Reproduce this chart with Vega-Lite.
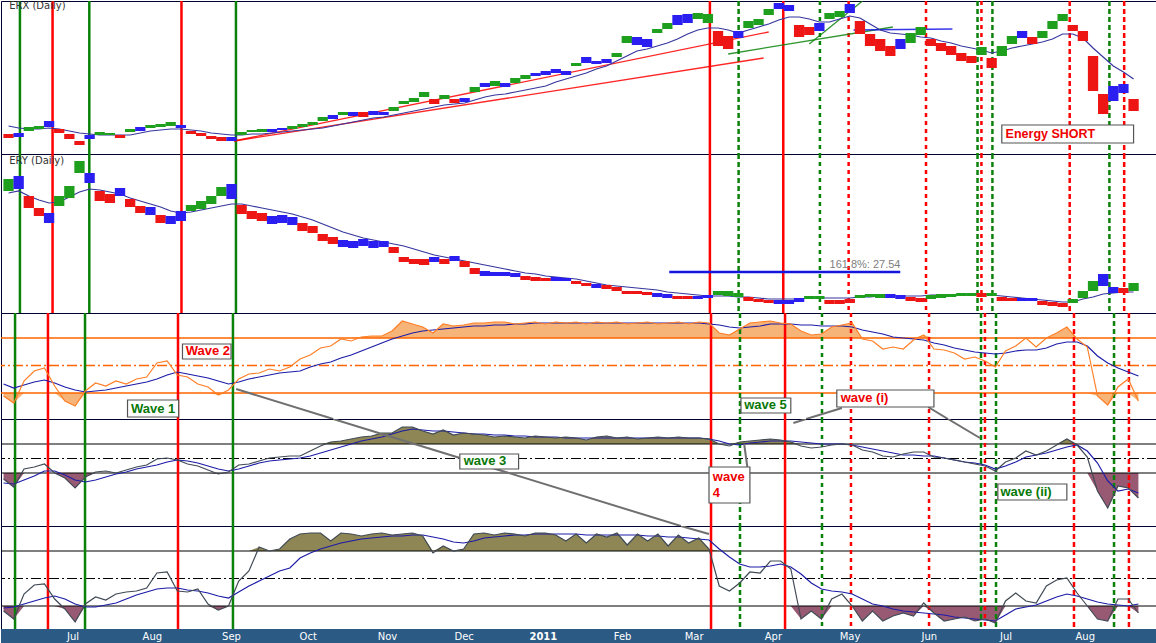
{
  "$schema": "https://vega.github.io/schema/vega-lite/v6.json",
  "padding": 0,
  "spacing": 0,
  "bounds": "flush",
  "background": "white",
  "config": {"view": {"stroke": "#00002E", "strokeWidth": 1}, "font": "DejaVu Sans"},
  "datasets": {
    "px": [
      {"d":"2010-06-04","h":30,"l":28,"c":"r","m":34,"eh":38.5,"el":35.5,"ec":"g","em":35,"o":17,"om":29,"p":8,"pm":0,"q":15,"qm":18},
      {"d":"2010-06-08","h":30.5,"l":28.5,"c":"b","m":33,"eh":39.25,"el":36,"ec":"b","em":35.5,"o":10,"om":25,"p":-8,"pm":-2,"q":7,"qm":19},
      {"d":"2010-06-12","h":33.5,"l":31.5,"c":"g","m":32.5,"eh":34.25,"el":31.25,"ec":"r","em":34.25,"o":32,"om":28,"p":28,"pm":6,"q":32,"qm":22},
      {"d":"2010-06-16","h":34,"l":32.5,"c":"g","m":32.5,"eh":31.25,"el":29.25,"ec":"r","em":33.25,"o":42,"om":31,"p":32,"pm":14,"q":41,"qm":25},
      {"d":"2010-06-20","h":36.5,"l":33.5,"c":"b","m":33,"eh":30,"el":27.5,"ec":"b","em":32.5,"o":45,"om":33,"p":38,"pm":24,"q":42,"qm":28},
      {"d":"2010-06-24","h":32.5,"l":30.5,"c":"r","m":32.5,"eh":34.25,"el":31.75,"ec":"g","em":32.75,"o":27,"om":30,"p":20,"pm":24,"q":27,"qm":30},
      {"d":"2010-06-28","h":30,"l":27.5,"c":"r","m":31.5,"eh":36.75,"el":33.75,"ec":"g","em":34,"o":12,"om":26,"p":10,"pm":16,"q":17,"qm":27},
      {"d":"2010-07-02","h":26.5,"l":24.5,"c":"r","m":30.5,"eh":43,"el":40,"ec":"g","em":35.25,"o":7,"om":23,"p":-10,"pm":6,"q":4,"qm":22},
      {"d":"2010-07-06","h":29.5,"l":27.5,"c":"b","m":30,"eh":40,"el":37.5,"ec":"b","em":36,"o":22,"om":21,"p":12,"pm":2,"q":22,"qm":19},
      {"d":"2010-07-10","h":31,"l":29.5,"c":"g","m":29.5,"eh":35.5,"el":33,"ec":"r","em":35.75,"o":30,"om":22,"p":22,"pm":6,"q":29,"qm":19},
      {"d":"2010-07-14","h":30.5,"l":29.5,"c":"g","m":29.5,"eh":34.75,"el":32.5,"ec":"r","em":35.25,"o":27,"om":23,"p":24,"pm":12,"q":26,"qm":21},
      {"d":"2010-07-18","h":29.5,"l":28,"c":"r","m":29.5,"eh":36.25,"el":34.25,"ec":"b","em":34.75,"o":32,"om":25,"p":20,"pm":18,"q":32,"qm":23},
      {"d":"2010-07-22","h":32.5,"l":31,"c":"g","m":29.5,"eh":33.5,"el":31.5,"ec":"r","em":33.75,"o":29,"om":27,"p":26,"pm":22,"q":34,"qm":27},
      {"d":"2010-07-26","h":33.5,"l":31.5,"c":"b","m":30.5,"eh":31.75,"el":30,"ec":"r","em":33,"o":34,"om":29,"p":32,"pm":28,"q":35,"qm":31},
      {"d":"2010-07-30","h":34.5,"l":33,"c":"g","m":31.5,"eh":31.5,"el":29.5,"ec":"b","em":32.25,"o":36,"om":31,"p":36,"pm":32,"q":38,"qm":34},
      {"d":"2010-08-03","h":35,"l":33.5,"c":"g","m":32,"eh":29.5,"el":27.5,"ec":"r","em":31.5,"o":50,"om":34,"p":48,"pm":36,"q":53,"qm":37},
      {"d":"2010-08-07","h":36,"l":34,"c":"g","m":32.5,"eh":29.25,"el":27.25,"ec":"b","em":30.5,"o":52,"om":38,"p":50,"pm":42,"q":54,"qm":38},
      {"d":"2010-08-11","h":34.5,"l":33,"c":"b","m":32.5,"eh":30.5,"el":28,"ec":"b","em":30,"o":38,"om":41,"p":46,"pm":46,"q":35,"qm":38},
      {"d":"2010-08-15","h":31.5,"l":30,"c":"r","m":32,"eh":32,"el":30.5,"ec":"g","em":30.25,"o":36,"om":39,"p":38,"pm":44,"q":34,"qm":36},
      {"d":"2010-08-19","h":30.5,"l":29,"c":"r","m":31.5,"eh":33,"el":31,"ec":"g","em":30.75,"o":29,"om":37,"p":34,"pm":40,"q":37,"qm":35},
      {"d":"2010-08-23","h":29,"l":27.5,"c":"r","m":30.5,"eh":34.25,"el":32.25,"ec":"g","em":31.25,"o":26,"om":35,"p":26,"pm":34,"q":22,"qm":33},
      {"d":"2010-08-27","h":28.5,"l":26.5,"c":"r","m":30,"eh":36.5,"el":34.25,"ec":"g","em":31.75,"o":18,"om":32,"p":18,"pm":28,"q":16,"qm":30},
      {"d":"2010-08-31","h":28.5,"l":26.5,"c":"b","m":29.5,"eh":37.25,"el":33.5,"ec":"b","em":32.25,"o":23,"om":29,"p":22,"pm":24,"q":20,"qm":28},
      {"d":"2010-09-04","h":31,"l":29.5,"c":"g","m":29.5,"eh":32,"el":29.75,"ec":"r","em":32.25,"o":34,"om":31,"p":36,"pm":28,"q":45,"qm":34},
      {"d":"2010-09-08","h":32,"l":31,"c":"g","m":30,"eh":30.5,"el":28.5,"ec":"r","em":31.75,"o":39,"om":34,"p":38,"pm":34,"q":55,"qm":40},
      {"d":"2010-09-12","h":32.5,"l":31,"c":"g","m":30,"eh":30,"el":28,"ec":"r","em":31.25,"o":40,"om":36,"p":44,"pm":40,"q":79,"qm":45},
      {"d":"2010-09-16","h":32.5,"l":31,"c":"b","m":30.5,"eh":29.25,"el":27.25,"ec":"b","em":30.75,"o":44,"om":38,"p":50,"pm":44,"q":75,"qm":50},
      {"d":"2010-09-20","h":33,"l":32,"c":"b","m":31,"eh":29.5,"el":27.5,"ec":"b","em":30.25,"o":42,"om":40,"p":52,"pm":46,"q":77,"qm":55},
      {"d":"2010-09-24","h":34,"l":32.5,"c":"g","m":31.5,"eh":29,"el":27,"ec":"b","em":29.75,"o":46,"om":41,"p":54,"pm":48,"q":87,"qm":58},
      {"d":"2010-09-28","h":35,"l":33.5,"c":"g","m":32,"eh":27.5,"el":25.5,"ec":"r","em":29,"o":54,"om":42,"p":54,"pm":50,"q":92,"qm":68},
      {"d":"2010-10-02","h":36,"l":34.5,"c":"g","m":32.5,"eh":26.75,"el":25,"ec":"r","em":28.25,"o":58,"om":46,"p":64,"pm":54,"q":93,"qm":73},
      {"d":"2010-10-06","h":38.5,"l":36.5,"c":"g","m":33,"eh":24.75,"el":23,"ec":"r","em":27.25,"o":65,"om":49,"p":74,"pm":60,"q":93,"qm":77},
      {"d":"2010-10-10","h":39.5,"l":37.5,"c":"b","m":34,"eh":24,"el":22.25,"ec":"r","em":26.25,"o":67,"om":51,"p":82,"pm":66,"q":85,"qm":80},
      {"d":"2010-10-14","h":41,"l":39.5,"c":"g","m":35,"eh":23.25,"el":21.5,"ec":"b","em":25.25,"o":74,"om":55,"p":84,"pm":72,"q":93,"qm":83},
      {"d":"2010-10-18","h":41,"l":39,"c":"b","m":36,"eh":23,"el":21.25,"ec":"b","em":24.5,"o":72,"om":58,"p":88,"pm":78,"q":92,"qm":85},
      {"d":"2010-10-22","h":41,"l":38.5,"c":"r","m":37,"eh":23.5,"el":21.75,"ec":"b","em":23.75,"o":76,"om":62,"p":92,"pm":84,"q":90,"qm":87},
      {"d":"2010-10-26","h":41.5,"l":39.5,"c":"b","m":38,"eh":23,"el":21.25,"ec":"b","em":23.25,"o":77,"om":66,"p":94,"pm":88,"q":92,"qm":88},
      {"d":"2010-10-30","h":41,"l":39.5,"c":"b","m":38.5,"eh":23,"el":21.5,"ec":"b","em":22.75,"o":77,"om":70,"p":100,"pm":92,"q":93,"qm":89},
      {"d":"2010-11-03","h":43.5,"l":41.5,"c":"g","m":39.5,"eh":21.5,"el":20,"ec":"r","em":22.25,"o":82,"om":74,"p":100,"pm":98,"q":91,"qm":90},
      {"d":"2010-11-07","h":46.5,"l":45,"c":"g","m":40.5,"eh":19,"el":17.75,"ec":"r","em":21.75,"o":92,"om":77,"p":112,"pm":104,"q":92,"qm":90},
      {"d":"2010-11-11","h":48,"l":46,"c":"g","m":41.5,"eh":18.5,"el":17.25,"ec":"r","em":21,"o":89,"om":80,"p":112,"pm":108,"q":93,"qm":91},
      {"d":"2010-11-15","h":51,"l":48.5,"c":"g","m":42.5,"eh":18.5,"el":17,"ec":"r","em":20.25,"o":86,"om":82,"p":104,"pm":106,"q":90,"qm":91},
      {"d":"2010-11-19","h":47.5,"l":45,"c":"r","m":43.5,"eh":19,"el":17.75,"ec":"b","em":19.5,"o":80,"om":83,"p":98,"pm":104,"q":73,"qm":89},
      {"d":"2010-11-23","h":49.5,"l":47.5,"c":"g","m":44.5,"eh":18.5,"el":17.25,"ec":"r","em":19,"o":89,"om":84,"p":106,"pm":104,"q":80,"qm":87},
      {"d":"2010-11-27","h":47.5,"l":45.5,"c":"r","m":45,"eh":19.25,"el":18,"ec":"b","em":18.5,"o":87,"om":85,"p":96,"pm":102,"q":75,"qm":84},
      {"d":"2010-12-01","h":48,"l":46,"c":"b","m":45.5,"eh":18,"el":16.5,"ec":"r","em":18,"o":88,"om":86,"p":100,"pm":100,"q":77,"qm":83},
      {"d":"2010-12-05","h":53.5,"l":51,"c":"g","m":47,"eh":16.25,"el":14.75,"ec":"r","em":17.5,"o":90,"om":87,"p":98,"pm":98,"q":92,"qm":85},
      {"d":"2010-12-09","h":55.5,"l":53.5,"c":"b","m":48.5,"eh":15.5,"el":14.25,"ec":"b","em":17,"o":90,"om":87,"p":96,"pm":98,"q":93,"qm":88},
      {"d":"2010-12-13","h":56.5,"l":54,"c":"g","m":49.5,"eh":15.25,"el":14.25,"ec":"b","em":16.5,"o":91,"om":88,"p":92,"pm":96,"q":91,"qm":89},
      {"d":"2010-12-17","h":55.5,"l":53.5,"c":"b","m":50,"eh":15.25,"el":14.25,"ec":"b","em":16,"o":91,"om":88,"p":94,"pm":96,"q":93,"qm":90},
      {"d":"2010-12-21","h":58,"l":55.5,"c":"g","m":51,"eh":15,"el":14,"ec":"b","em":15.5,"o":89,"om":89,"p":92,"pm":94,"q":92,"qm":91},
      {"d":"2010-12-25","h":59.5,"l":57.5,"c":"g","m":52,"eh":14.25,"el":13.25,"ec":"r","em":15,"o":90,"om":89,"p":90,"pm":94,"q":90,"qm":91},
      {"d":"2010-12-29","h":60.5,"l":59,"c":"b","m":53,"eh":14,"el":13,"ec":"r","em":14.75,"o":91,"om":90,"p":94,"pm":92,"q":93,"qm":92},
      {"d":"2011-01-02","h":61.5,"l":59.5,"c":"b","m":54,"eh":13.75,"el":13,"ec":"r","em":14.25,"o":89,"om":90,"p":92,"pm":92,"q":93,"qm":92},
      {"d":"2011-01-06","h":62.5,"l":60.5,"c":"b","m":56,"eh":14,"el":13,"ec":"b","em":14,"o":91,"om":90,"p":90,"pm":92,"q":91,"qm":92},
      {"d":"2011-01-10","h":61.5,"l":59.5,"c":"b","m":57.5,"eh":13.75,"el":13,"ec":"b","em":13.75,"o":90,"om":90,"p":92,"pm":90,"q":85,"qm":92},
      {"d":"2011-01-14","h":65.5,"l":64,"c":"g","m":59,"eh":13,"el":12.25,"ec":"r","em":13.5,"o":91,"om":90,"p":90,"pm":90,"q":92,"qm":92},
      {"d":"2011-01-18","h":68.5,"l":65.5,"c":"b","m":60.5,"eh":12.5,"el":11.75,"ec":"r","em":13,"o":89,"om":90,"p":86,"pm":90,"q":83,"qm":91},
      {"d":"2011-01-22","h":66.5,"l":65,"c":"b","m":62.5,"eh":12.25,"el":11.25,"ec":"b","em":12.5,"o":91,"om":90,"p":92,"pm":90,"q":92,"qm":91},
      {"d":"2011-01-26","h":67.5,"l":65.5,"c":"b","m":64,"eh":12,"el":11,"ec":"r","em":12,"o":90,"om":90,"p":94,"pm":90,"q":89,"qm":91},
      {"d":"2011-01-30","h":70.5,"l":68.5,"c":"g","m":66.5,"eh":11.5,"el":10.5,"ec":"r","em":11.75,"o":91,"om":90,"p":90,"pm":90,"q":93,"qm":91},
      {"d":"2011-02-03","h":79,"l":75.5,"c":"g","m":69,"eh":10.5,"el":9.75,"ec":"r","em":11.5,"o":89,"om":90,"p":92,"pm":90,"q":81,"qm":91},
      {"d":"2011-02-07","h":78.5,"l":74.5,"c":"b","m":71.5,"eh":10.5,"el":9.75,"ec":"r","em":11.25,"o":90,"om":90,"p":88,"pm":90,"q":92,"qm":91},
      {"d":"2011-02-11","h":77.5,"l":73.5,"c":"b","m":72.5,"eh":10.25,"el":9.5,"ec":"r","em":11,"o":91,"om":90,"p":90,"pm":90,"q":85,"qm":90},
      {"d":"2011-02-15","h":82.5,"l":80.5,"c":"g","m":74,"eh":10,"el":9,"ec":"b","em":10.75,"o":89,"om":90,"p":92,"pm":90,"q":92,"qm":90},
      {"d":"2011-02-19","h":85.5,"l":82.5,"c":"g","m":75.5,"eh":9.75,"el":8.75,"ec":"b","em":10.25,"o":90,"om":90,"p":90,"pm":90,"q":80,"qm":89},
      {"d":"2011-02-23","h":89.5,"l":84.5,"c":"b","m":77.5,"eh":9.25,"el":8.5,"ec":"r","em":10,"o":91,"om":90,"p":92,"pm":90,"q":91,"qm":89},
      {"d":"2011-02-27","h":90,"l":85.5,"c":"b","m":80,"eh":9.25,"el":8.5,"ec":"r","em":9.75,"o":89,"om":90,"p":90,"pm":90,"q":83,"qm":88},
      {"d":"2011-03-03","h":90.5,"l":87.5,"c":"g","m":82,"eh":9.25,"el":8.5,"ec":"b","em":9.5,"o":91,"om":90,"p":90,"pm":90,"q":88,"qm":87},
      {"d":"2011-03-07","h":90,"l":85.5,"c":"g","m":83,"eh":9.5,"el":8.75,"ec":"b","em":9.25,"o":90,"om":89,"p":88,"pm":88,"q":77,"qm":86},
      {"d":"2011-03-11","h":81.5,"l":74,"c":"r","m":83,"eh":10.5,"el":9.5,"ec":"g","em":9.25,"o":80,"om":88,"p":78,"pm":84,"q":40,"qm":77},
      {"d":"2011-03-15","h":79,"l":72.5,"c":"r","m":82,"eh":10.5,"el":9.25,"ec":"g","em":9.25,"o":78,"om":86,"p":74,"pm":78,"q":35,"qm":69},
      {"d":"2011-03-19","h":81.5,"l":78,"c":"b","m":80.5,"eh":10,"el":9,"ec":"g","em":9,"o":84,"om":85,"p":82,"pm":76,"q":43,"qm":62},
      {"d":"2011-03-23","h":86.5,"l":83,"c":"g","m":82,"eh":9,"el":8,"ec":"r","em":9,"o":90,"om":86,"p":84,"pm":80,"q":54,"qm":59},
      {"d":"2011-03-27","h":87.5,"l":84.5,"c":"g","m":83.5,"eh":8.5,"el":7.75,"ec":"r","em":8.75,"o":91,"om":87,"p":86,"pm":82,"q":53,"qm":59},
      {"d":"2011-03-31","h":92.5,"l":89.5,"c":"g","m":85,"eh":8.25,"el":7.5,"ec":"r","em":8.5,"o":92,"om":89,"p":88,"pm":84,"q":65,"qm":60},
      {"d":"2011-04-04","h":95.5,"l":92.5,"c":"b","m":87,"eh":8.25,"el":7.25,"ec":"b","em":8.5,"o":90,"om":89,"p":86,"pm":84,"q":65,"qm":62},
      {"d":"2011-04-08","h":94.5,"l":91.5,"c":"b","m":88.5,"eh":8.25,"el":7.25,"ec":"b","em":8.5,"o":89,"om":89,"p":82,"pm":84,"q":57,"qm":59},
      {"d":"2011-04-12","h":84.5,"l":78.5,"c":"r","m":88.5,"eh":8.75,"el":7.75,"ec":"b","em":8.5,"o":82,"om":88,"p":74,"pm":82,"q":7,"qm":52},
      {"d":"2011-04-16","h":83.5,"l":79.5,"c":"r","m":87.5,"eh":9.25,"el":8.5,"ec":"g","em":8.75,"o":78,"om":88,"p":70,"pm":80,"q":15,"qm":43},
      {"d":"2011-04-20","h":85.5,"l":81.5,"c":"b","m":86,"eh":9.25,"el":8.5,"ec":"g","em":8.75,"o":79,"om":87,"p":72,"pm":78,"q":7,"qm":37},
      {"d":"2011-04-24","h":90.5,"l":87.5,"c":"g","m":86,"eh":8.25,"el":7.25,"ec":"r","em":8.75,"o":86,"om":87,"p":76,"pm":78,"q":27,"qm":35},
      {"d":"2011-04-28","h":91.5,"l":88.5,"c":"g","m":87.5,"eh":8.25,"el":7.25,"ec":"r","em":8.75,"o":88,"om":87,"p":78,"pm":78,"q":32,"qm":34},
      {"d":"2011-05-02","h":95,"l":90.5,"c":"b","m":89,"eh":8.5,"el":7.5,"ec":"r","em":8.75,"o":90,"om":86,"p":76,"pm":76,"q":20,"qm":32},
      {"d":"2011-05-06","h":86.5,"l":80,"c":"r","m":88,"eh":9.5,"el":8.75,"ec":"g","em":9,"o":74,"om":83,"p":66,"pm":72,"q":5,"qm":27},
      {"d":"2011-05-10","h":80,"l":74,"c":"r","m":85,"eh":9.75,"el":9,"ec":"g","em":9,"o":72,"om":81,"p":62,"pm":68,"q":15,"qm":22},
      {"d":"2011-05-14","h":77.5,"l":71.5,"c":"r","m":82,"eh":9.75,"el":8.75,"ec":"g","em":9.25,"o":64,"om":79,"p":54,"pm":64,"q":5,"qm":20},
      {"d":"2011-05-18","h":74,"l":69,"c":"r","m":80.5,"eh":9.75,"el":8.75,"ec":"b","em":9.25,"o":66,"om":76,"p":52,"pm":60,"q":10,"qm":17},
      {"d":"2011-05-22","h":77.5,"l":72.5,"c":"b","m":80,"eh":9.5,"el":8.5,"ec":"b","em":9.25,"o":64,"om":75,"p":58,"pm":56,"q":13,"qm":15},
      {"d":"2011-05-26","h":80.5,"l":75.5,"c":"g","m":79.5,"eh":9,"el":8,"ec":"r","em":9.25,"o":73,"om":74,"p":62,"pm":56,"q":10,"qm":14},
      {"d":"2011-05-30","h":83.5,"l":79.5,"c":"g","m":78.5,"eh":8.75,"el":7.75,"ec":"r","em":9.25,"o":78,"om":73,"p":62,"pm":54,"q":23,"qm":13},
      {"d":"2011-06-03","h":77.5,"l":74,"c":"r","m":78,"eh":9.5,"el":8.5,"ec":"g","em":9.5,"o":64,"om":70,"p":52,"pm":54,"q":13,"qm":12},
      {"d":"2011-06-07","h":75.5,"l":71.5,"c":"r","m":76.5,"eh":9.75,"el":8.75,"ec":"g","em":9.5,"o":63,"om":68,"p":50,"pm":50,"q":5,"qm":11},
      {"d":"2011-06-11","h":74,"l":69.5,"c":"r","m":75.5,"eh":9.75,"el":9,"ec":"g","em":9.5,"o":60,"om":65,"p":46,"pm":46,"q":7,"qm":9},
      {"d":"2011-06-15","h":70.5,"l":66.5,"c":"r","m":74,"eh":10,"el":9.25,"ec":"g","em":9.5,"o":54,"om":63,"p":42,"pm":42,"q":9,"qm":8},
      {"d":"2011-06-19","h":69,"l":65.5,"c":"r","m":73,"eh":10,"el":9.25,"ec":"g","em":9.75,"o":56,"om":61,"p":38,"pm":40,"q":5,"qm":7},
      {"d":"2011-06-23","h":73.5,"l":69.5,"c":"g","m":72,"eh":10,"el":9,"ec":"r","em":9.75,"o":52,"om":60,"p":34,"pm":36,"q":7,"qm":6},
      {"d":"2011-06-27","h":68,"l":63,"c":"r","m":70.5,"eh":10,"el":9.25,"ec":"g","em":9.5,"o":46,"om":59,"p":24,"pm":28,"q":3,"qm":5},
      {"d":"2011-07-01","h":74,"l":69,"c":"g","m":71.5,"eh":9,"el":8,"ec":"r","em":9.25,"o":62,"om":60,"p":42,"pm":34,"q":25,"qm":11},
      {"d":"2011-07-05","h":79,"l":75,"c":"g","m":73,"eh":8.75,"el":8,"ec":"r","em":9,"o":67,"om":62,"p":50,"pm":42,"q":33,"qm":17},
      {"d":"2011-07-09","h":81.5,"l":78,"c":"b","m":74,"eh":8.75,"el":8,"ec":"b","em":8.75,"o":75,"om":63,"p":64,"pm":52,"q":25,"qm":19},
      {"d":"2011-07-13","h":78.5,"l":75,"c":"r","m":75,"eh":8.75,"el":8,"ec":"b","em":8.5,"o":66,"om":63,"p":56,"pm":56,"q":23,"qm":21},
      {"d":"2011-07-17","h":81.5,"l":78,"c":"g","m":76,"eh":8,"el":7,"ec":"r","em":8.25,"o":75,"om":65,"p":64,"pm":60,"q":40,"qm":25},
      {"d":"2011-07-21","h":86.5,"l":82.5,"c":"g","m":77.5,"eh":7.75,"el":6.75,"ec":"r","em":8,"o":80,"om":69,"p":76,"pm":66,"q":46,"qm":29},
      {"d":"2011-07-25","h":90,"l":86.5,"c":"g","m":80,"eh":7.5,"el":6.5,"ec":"r","em":7.75,"o":86,"om":71,"p":88,"pm":72,"q":48,"qm":32},
      {"d":"2011-07-29","h":84.5,"l":81.5,"c":"r","m":80,"eh":8.5,"el":7.5,"ec":"g","em":7.75,"o":74,"om":71,"p":76,"pm":76,"q":33,"qm":30},
      {"d":"2011-08-02","h":81.5,"l":76.5,"c":"r","m":78,"eh":10.5,"el":8.75,"ec":"g","em":8.5,"o":66,"om":67,"p":52,"pm":64,"q":20,"qm":27},
      {"d":"2011-08-06","h":69,"l":51.5,"c":"r","m":73,"eh":13,"el":10.5,"ec":"g","em":9,"o":17,"om":57,"p":-16,"pm":40,"q":7,"qm":24},
      {"d":"2011-08-10","h":50,"l":40,"c":"r","m":68.5,"eh":14.75,"el":11.75,"ec":"b","em":9.75,"o":8,"om":50,"p":-50,"pm":4,"q":5,"qm":22},
      {"d":"2011-08-14","h":54,"l":46.5,"c":"b","m":64,"eh":11.5,"el":10,"ec":"b","em":10,"o":26,"om":45,"p":-6,"pm":-16,"q":27,"qm":21},
      {"d":"2011-08-18","h":55,"l":50.5,"c":"b","m":61,"eh":11.25,"el":10,"ec":"r","em":10.25,"o":34,"om":41,"p":-10,"pm":-12,"q":27,"qm":20},
      {"d":"2011-08-22","h":47.5,"l":41.5,"c":"r","m":57.5,"eh":12.5,"el":10.5,"ec":"g","em":10.25,"o":12,"om":37,"p":-30,"pm":-20,"q":13,"qm":22}
    ],
    "ev": [
      {"d":"2010-06-08T12:00:00Z","c":"green","k":"solid"},
      {"d":"2010-06-21T09:00:00Z","c":"red","k":"solid"},
      {"d":"2010-07-05T21:00:00Z","c":"green","k":"solid"},
      {"d":"2010-08-11T06:00:00Z","c":"red","k":"solid"},
      {"d":"2010-09-01T18:00:00Z","c":"green","k":"solid"},
      {"d":"2011-03-07T19:00:00Z","c":"red","k":"solid"},
      {"d":"2011-03-19T03:00:00Z","c":"green","k":"dashed"},
      {"d":"2011-04-05T18:00:00Z","c":"red","k":"solid"},
      {"d":"2011-04-20T05:00:00Z","c":"green","k":"thin"},
      {"d":"2011-05-01T13:00:00Z","c":"red","k":"thin"},
      {"d":"2011-06-01T02:00:00Z","c":"red","k":"thin"},
      {"d":"2011-06-21T10:00:00Z","c":"green","k":"dashed"},
      {"d":"2011-06-22T23:00:00Z","c":"red","k":"thin"},
      {"d":"2011-06-27T07:00:00Z","c":"green","k":"dashed"},
      {"d":"2011-07-27T19:00:00Z","c":"red","k":"dashed"},
      {"d":"2011-08-12T11:00:00Z","c":"green","k":"dashed"},
      {"d":"2011-08-18T07:00:00Z","c":"red","k":"dashed"}
    ]
  },
  "vconcat": [
    {
      "width": 1156,
      "height": 153,
      "layer": [
        {
          "data": {"name": "ev"},
          "mark": {"type": "rule", "clip": true},
          "encoding": {
            "x": {"field": "d", "type": "temporal", "scale": {"type": "utc", "domain": [{"year": 2010, "month": 6, "date": 3, "utc": true}, {"year": 2011, "month": 8, "date": 29, "hours": 6, "minutes": 30, "utc": true}]}, "axis": null},
            "stroke": {"field": "c", "type": "nominal", "scale": {"domain": ["green", "red", "blue"], "range": ["#0A820A", "#FF0000", "#1414E6"]}, "legend": null},
            "strokeDash": {"field": "k", "type": "nominal", "scale": {"domain": ["solid", "dashed", "thin", "dashdot"], "range": [[1, 0], [5, 3], [4, 4], [10, 3, 2, 3]]}, "legend": null},
            "strokeWidth": {"field": "k", "type": "ordinal", "scale": {"domain": ["solid", "dashed", "thin"], "range": [2.5, 2.5, 1]}, "legend": null}
          }
        },
        {
          "data": {"values": [
            {"d": "2010-09-01", "d2": "2011-03-31", "v": 26.5, "v2": 81, "c": "red"},
            {"d": "2010-09-01", "d2": "2011-03-29", "v": 26.5, "v2": 68, "c": "red"},
            {"d": "2011-03-15", "d2": "2011-05-19", "v": 70, "v2": 83.5, "c": "green"},
            {"d": "2011-04-16", "d2": "2011-05-07", "v": 75, "v2": 96.5, "c": "green"},
            {"d": "2011-05-03T12:00:00Z", "d2": "2011-06-11T12:00:00Z", "v": 82, "v2": 82.5, "c": "blue"}
          ]},
          "mark": {"type": "rule", "strokeWidth": 1.3, "opacity": 0.85, "clip": true},
          "encoding": {
            "x": {"field": "d", "type": "temporal", "scale": {"type": "utc", "domain": [{"year": 2010, "month": 6, "date": 3, "utc": true}, {"year": 2011, "month": 8, "date": 29, "hours": 6, "minutes": 30, "utc": true}]}, "axis": null},
            "x2": {"field": "d2"},
            "y": {"field": "v", "type": "quantitative", "scale": {"domain": [20, 96.5], "nice": false, "zero": false}, "axis": null},
            "y2": {"field": "v2"},
            "stroke": {"field": "c", "type": "nominal", "scale": {"domain": ["green", "red", "blue"], "range": ["#0A820A", "#FF0000", "#1414E6"]}, "legend": null}
          }
        },
        {
          "data": {"name": "px"},
          "mark": {"type": "line", "color": "#36369E", "strokeWidth": 1.2, "clip": true},
          "encoding": {
            "x": {"field": "d", "type": "temporal", "scale": {"type": "utc", "domain": [{"year": 2010, "month": 6, "date": 3, "utc": true}, {"year": 2011, "month": 8, "date": 29, "hours": 6, "minutes": 30, "utc": true}]}, "axis": null},
            "y": {"field": "m", "type": "quantitative", "scale": {"domain": [20, 96.5], "nice": false, "zero": false}, "axis": null}
          }
        },
        {
          "data": {"name": "px"},
          "mark": {"type": "bar", "width": 10.3, "clip": true},
          "encoding": {
            "x": {"field": "d", "type": "temporal", "scale": {"type": "utc", "domain": [{"year": 2010, "month": 6, "date": 3, "utc": true}, {"year": 2011, "month": 8, "date": 29, "hours": 6, "minutes": 30, "utc": true}]}, "axis": null},
            "y": {"field": "l", "type": "quantitative", "scale": {"domain": [20, 96.5], "nice": false, "zero": false}, "axis": null},
            "y2": {"field": "h"},
            "fill": {"field": "c", "type": "nominal", "scale": {"domain": ["g", "b", "r"], "range": ["#1EA01E", "#2A1EF0", "#EE1515"]}, "legend": null}
          }
        },
        {
          "data": {"values": [{"d": "2010-06-04T06:00:00Z", "v": 96.5, "t": "ERX (Daily)"}]},
          "mark": {"type": "text", "align": "left", "baseline": "top", "fontSize": 10, "color": "#333333", "clip": true},
          "encoding": {
            "x": {"field": "d", "type": "temporal", "scale": {"type": "utc", "domain": [{"year": 2010, "month": 6, "date": 3, "utc": true}, {"year": 2011, "month": 8, "date": 29, "hours": 6, "minutes": 30, "utc": true}]}, "axis": null},
            "y": {"field": "v", "type": "quantitative", "scale": {"domain": [20, 96.5], "nice": false, "zero": false}, "axis": null},
            "text": {"field": "t"}
          }
        },
        {
          "data": {"values": [{"d": "2011-07-01", "d2": "2011-08-22", "v": 34.5, "v2": 25.5}]},
          "mark": {"type": "rect", "fill": "white", "stroke": "#555555", "strokeWidth": 1.2, "clip": true},
          "encoding": {
            "x": {"field": "d", "type": "temporal", "scale": {"type": "utc", "domain": [{"year": 2010, "month": 6, "date": 3, "utc": true}, {"year": 2011, "month": 8, "date": 29, "hours": 6, "minutes": 30, "utc": true}]}, "axis": null},
            "x2": {"field": "d2"},
            "y": {"field": "v", "type": "quantitative", "scale": {"domain": [20, 96.5], "nice": false, "zero": false}, "axis": null},
            "y2": {"field": "v2"}
          }
        },
        {
          "data": {"values": [{"d": "2011-07-02T12:00:00Z", "v": 30, "t": "Energy SHORT"}]},
          "mark": {"type": "text", "align": "left", "baseline": "middle", "font": "Liberation Sans", "fontWeight": "bold", "fontSize": 12.5, "color": "#EE0000", "clip": true},
          "encoding": {
            "x": {"field": "d", "type": "temporal", "scale": {"type": "utc", "domain": [{"year": 2010, "month": 6, "date": 3, "utc": true}, {"year": 2011, "month": 8, "date": 29, "hours": 6, "minutes": 30, "utc": true}]}, "axis": null},
            "y": {"field": "v", "type": "quantitative", "scale": {"domain": [20, 96.5], "nice": false, "zero": false}, "axis": null},
            "text": {"field": "t"}
          }
        }
      ]
    },
    {
      "width": 1156,
      "height": 159,
      "layer": [
        {
          "data": {"name": "ev"},
          "mark": {"type": "rule", "clip": true},
          "encoding": {
            "x": {"field": "d", "type": "temporal", "scale": {"type": "utc", "domain": [{"year": 2010, "month": 6, "date": 3, "utc": true}, {"year": 2011, "month": 8, "date": 29, "hours": 6, "minutes": 30, "utc": true}]}, "axis": null},
            "stroke": {"field": "c", "type": "nominal", "scale": {"domain": ["green", "red", "blue"], "range": ["#0A820A", "#FF0000", "#1414E6"]}, "legend": null},
            "strokeDash": {"field": "k", "type": "nominal", "scale": {"domain": ["solid", "dashed", "thin", "dashdot"], "range": [[1, 0], [5, 3], [4, 4], [10, 3, 2, 3]]}, "legend": null},
            "strokeWidth": {"field": "k", "type": "ordinal", "scale": {"domain": ["solid", "dashed", "thin"], "range": [2.5, 2.5, 1]}, "legend": null}
          }
        },
        {
          "data": {"name": "px"},
          "mark": {"type": "line", "color": "#36369E", "strokeWidth": 1.2, "clip": true},
          "encoding": {
            "x": {"field": "d", "type": "temporal", "scale": {"type": "utc", "domain": [{"year": 2010, "month": 6, "date": 3, "utc": true}, {"year": 2011, "month": 8, "date": 29, "hours": 6, "minutes": 30, "utc": true}]}, "axis": null},
            "y": {"field": "em", "type": "quantitative", "scale": {"domain": [5, 44.75], "nice": false, "zero": false}, "axis": null}
          }
        },
        {
          "data": {"name": "px"},
          "mark": {"type": "bar", "width": 10.3, "clip": true},
          "encoding": {
            "x": {"field": "d", "type": "temporal", "scale": {"type": "utc", "domain": [{"year": 2010, "month": 6, "date": 3, "utc": true}, {"year": 2011, "month": 8, "date": 29, "hours": 6, "minutes": 30, "utc": true}]}, "axis": null},
            "y": {"field": "el", "type": "quantitative", "scale": {"domain": [5, 44.75], "nice": false, "zero": false}, "axis": null},
            "y2": {"field": "eh"},
            "fill": {"field": "ec", "type": "nominal", "scale": {"domain": ["g", "b", "r"], "range": ["#1EA01E", "#2A1EF0", "#EE1515"]}, "legend": null}
          }
        },
        {
          "data": {"values": [{"d": "2011-02-19T18:00:00Z", "d2": "2011-05-21T22:00:00Z", "v": 15.25}]},
          "mark": {"type": "rule", "color": "#1515E0", "strokeWidth": 2.5, "clip": true},
          "encoding": {
            "x": {"field": "d", "type": "temporal", "scale": {"type": "utc", "domain": [{"year": 2010, "month": 6, "date": 3, "utc": true}, {"year": 2011, "month": 8, "date": 29, "hours": 6, "minutes": 30, "utc": true}]}, "axis": null},
            "x2": {"field": "d2"},
            "y": {"field": "v", "type": "quantitative", "scale": {"domain": [5, 44.75], "nice": false, "zero": false}, "axis": null}
          }
        },
        {
          "data": {"values": [{"d": "2011-05-08T00:00:00Z", "v": 16.9, "t": "161.8%: 27.54"}]},
          "mark": {"type": "text", "align": "center", "baseline": "middle", "font": "Liberation Sans", "fontSize": 11, "color": "#808080", "clip": true},
          "encoding": {
            "x": {"field": "d", "type": "temporal", "scale": {"type": "utc", "domain": [{"year": 2010, "month": 6, "date": 3, "utc": true}, {"year": 2011, "month": 8, "date": 29, "hours": 6, "minutes": 30, "utc": true}]}, "axis": null},
            "y": {"field": "v", "type": "quantitative", "scale": {"domain": [5, 44.75], "nice": false, "zero": false}, "axis": null},
            "text": {"field": "t"}
          }
        },
        {
          "data": {"values": [{"d": "2010-06-04T06:00:00Z", "v": 43, "t": "ERY (Daily)"}]},
          "mark": {"type": "text", "align": "left", "baseline": "middle", "fontSize": 10, "color": "#333333", "clip": true},
          "encoding": {
            "x": {"field": "d", "type": "temporal", "scale": {"type": "utc", "domain": [{"year": 2010, "month": 6, "date": 3, "utc": true}, {"year": 2011, "month": 8, "date": 29, "hours": 6, "minutes": 30, "utc": true}]}, "axis": null},
            "y": {"field": "v", "type": "quantitative", "scale": {"domain": [5, 44.75], "nice": false, "zero": false}, "axis": null},
            "text": {"field": "t"}
          }
        }
      ]
    },
    {
      "width": 1156,
      "height": 106,
      "resolve": {"scale": {"y": "independent"}},
      "layer": [
        {
          "data": {"name": "px"},
          "mark": {"type": "area", "color": "#F7B479", "clip": true},
          "encoding": {
            "x": {"field": "d", "type": "temporal", "scale": {"type": "utc", "domain": [{"year": 2010, "month": 6, "date": 3, "utc": true}, {"year": 2011, "month": 8, "date": 29, "hours": 6, "minutes": 30, "utc": true}]}, "axis": null},
            "y": {"field": "o", "type": "quantitative", "scale": {"domain": [75, 100], "range": [25, 0], "clamp": true, "nice": false, "zero": false}, "axis": null},
            "y2": {"datum": 75}
          }
        },
        {
          "data": {"name": "px"},
          "mark": {"type": "area", "color": "#F7B479", "clip": true},
          "encoding": {
            "x": {"field": "d", "type": "temporal", "scale": {"type": "utc", "domain": [{"year": 2010, "month": 6, "date": 3, "utc": true}, {"year": 2011, "month": 8, "date": 29, "hours": 6, "minutes": 30, "utc": true}]}, "axis": null},
            "y": {"field": "o", "type": "quantitative", "scale": {"domain": [-6, 20], "range": [106, 80], "clamp": true, "nice": false, "zero": false}, "axis": null},
            "y2": {"datum": 20}
          }
        },
        {
          "layer": [
            {
              "data": {"values": [{"v": 75, "s": "solid"}, {"v": 20, "s": "solid"}, {"v": 47.5, "s": "dashdot"}]},
              "mark": {"type": "rule", "color": "#FF6600", "strokeWidth": 1.5, "clip": true},
              "encoding": {
                "y": {"field": "v", "type": "quantitative", "scale": {"domain": [-6, 100], "nice": false, "zero": false}, "axis": null},
                "strokeDash": {"field": "s", "type": "nominal", "scale": {"domain": ["solid", "dashed", "thin", "dashdot"], "range": [[1, 0], [5, 3], [4, 4], [10, 3, 2, 3]]}, "legend": null}
              }
            },
            {
              "data": {"name": "ev"},
              "mark": {"type": "rule", "clip": true},
              "encoding": {
                "x": {"field": "d", "type": "temporal", "scale": {"type": "utc", "domain": [{"year": 2010, "month": 6, "date": 3, "utc": true}, {"year": 2011, "month": 8, "date": 29, "hours": 6, "minutes": 30, "utc": true}]}, "axis": null},
                "stroke": {"field": "c", "type": "nominal", "scale": {"domain": ["green", "red", "blue"], "range": ["#0A820A", "#FF0000", "#1414E6"]}, "legend": null},
                "strokeDash": {"field": "k", "type": "nominal", "scale": {"domain": ["solid", "dashed", "thin", "dashdot"], "range": [[1, 0], [5, 3], [4, 4], [10, 3, 2, 3]]}, "legend": null},
                "strokeWidth": {"field": "k", "type": "ordinal", "scale": {"domain": ["solid", "dashed", "thin"], "range": [2.5, 2.5, 1]}, "legend": null}
              }
            },
            {
              "data": {"name": "px"},
              "mark": {"type": "line", "color": "#1C1CA8", "strokeWidth": 1.2, "clip": true},
              "encoding": {
                "x": {"field": "d", "type": "temporal", "scale": {"type": "utc", "domain": [{"year": 2010, "month": 6, "date": 3, "utc": true}, {"year": 2011, "month": 8, "date": 29, "hours": 6, "minutes": 30, "utc": true}]}, "axis": null},
                "y": {"field": "om", "type": "quantitative", "scale": {"domain": [-6, 100], "nice": false, "zero": false}, "axis": null}
              }
            },
            {
              "data": {"name": "px"},
              "mark": {"type": "line", "color": "#FF7F27", "strokeWidth": 1.2, "clip": true},
              "encoding": {
                "x": {"field": "d", "type": "temporal", "scale": {"type": "utc", "domain": [{"year": 2010, "month": 6, "date": 3, "utc": true}, {"year": 2011, "month": 8, "date": 29, "hours": 6, "minutes": 30, "utc": true}]}, "axis": null},
                "y": {"field": "o", "type": "quantitative", "scale": {"domain": [-6, 100], "nice": false, "zero": false}, "axis": null}
              }
            },
            {
              "data": {"values": [
                {"d": "2010-09-03", "d2": "2010-10-11", "v": 24, "v2": -6},
                {"d": "2011-04-28", "d2": "2011-04-14", "v": 5, "v2": -6},
                {"d": "2011-05-31T18:00:00Z", "d2": "2011-06-08T12:00:00Z", "v": 6, "v2": -6}
              ]},
              "mark": {"type": "rule", "color": "#707070", "strokeWidth": 2, "clip": true},
              "encoding": {
                "x": {"field": "d", "type": "temporal", "scale": {"type": "utc", "domain": [{"year": 2010, "month": 6, "date": 3, "utc": true}, {"year": 2011, "month": 8, "date": 29, "hours": 6, "minutes": 30, "utc": true}]}, "axis": null},
                "x2": {"field": "d2"},
                "y": {"field": "v", "type": "quantitative", "scale": {"domain": [-6, 100], "nice": false, "zero": false}, "axis": null},
                "y2": {"field": "v2"}
              }
            },
            {
              "data": {"values": [
                {"d": "2010-08-13", "d2": "2010-09-01", "v": 69, "v2": 54},
                {"d": "2010-07-22T12:00:00Z", "d2": "2010-08-11T12:00:00Z", "v": 13, "v2": -4},
                {"d": "2011-03-19T12:00:00Z", "d2": "2011-04-08", "v": 15, "v2": 0},
                {"d": "2011-04-26", "d2": "2011-06-03", "v": 23, "v2": 6}
              ]},
              "mark": {"type": "rect", "fill": "white", "stroke": "#555555", "strokeWidth": 1.2, "clip": true},
              "encoding": {
                "x": {"field": "d", "type": "temporal", "scale": {"type": "utc", "domain": [{"year": 2010, "month": 6, "date": 3, "utc": true}, {"year": 2011, "month": 8, "date": 29, "hours": 6, "minutes": 30, "utc": true}]}, "axis": null},
                "x2": {"field": "d2"},
                "y": {"field": "v", "type": "quantitative", "scale": {"domain": [-6, 100], "nice": false, "zero": false}, "axis": null},
                "y2": {"field": "v2"}
              }
            },
            {
              "data": {"values": [
                {"d": "2010-08-14T06:00:00Z", "v": 62, "t": "Wave 2"},
                {"d": "2011-04-27T12:00:00Z", "v": 15, "t": "wave (i)"}
              ]},
              "mark": {"type": "text", "align": "left", "baseline": "middle", "font": "Liberation Sans", "fontWeight": "bold", "fontSize": 13, "color": "#F00000", "clip": true},
              "encoding": {
                "x": {"field": "d", "type": "temporal", "scale": {"type": "utc", "domain": [{"year": 2010, "month": 6, "date": 3, "utc": true}, {"year": 2011, "month": 8, "date": 29, "hours": 6, "minutes": 30, "utc": true}]}, "axis": null},
                "y": {"field": "v", "type": "quantitative", "scale": {"domain": [-6, 100], "nice": false, "zero": false}, "axis": null},
                "text": {"field": "t"}
              }
            },
            {
              "data": {"values": [
                {"d": "2010-07-23T20:00:00Z", "v": 4, "t": "Wave 1"},
                {"d": "2011-03-20T18:00:00Z", "v": 8, "t": "wave 5"}
              ]},
              "mark": {"type": "text", "align": "left", "baseline": "middle", "font": "Liberation Sans", "fontWeight": "bold", "fontSize": 13, "color": "#087808", "clip": true},
              "encoding": {
                "x": {"field": "d", "type": "temporal", "scale": {"type": "utc", "domain": [{"year": 2010, "month": 6, "date": 3, "utc": true}, {"year": 2011, "month": 8, "date": 29, "hours": 6, "minutes": 30, "utc": true}]}, "axis": null},
                "y": {"field": "v", "type": "quantitative", "scale": {"domain": [-6, 100], "nice": false, "zero": false}, "axis": null},
                "text": {"field": "t"}
              }
            }
          ]
        }
      ]
    },
    {
      "width": 1156,
      "height": 107,
      "resolve": {"scale": {"y": "independent"}},
      "layer": [
        {
          "data": {"name": "px"},
          "mark": {"type": "area", "color": "#8E8654", "clip": true},
          "encoding": {
            "x": {"field": "d", "type": "temporal", "scale": {"type": "utc", "domain": [{"year": 2010, "month": 6, "date": 3, "utc": true}, {"year": 2011, "month": 8, "date": 29, "hours": 6, "minutes": 30, "utc": true}]}, "axis": null},
            "y": {"field": "p", "type": "quantitative", "scale": {"domain": [78, 128], "range": [25, 0], "clamp": true, "nice": false, "zero": false}, "axis": null},
            "y2": {"datum": 78}
          }
        },
        {
          "data": {"name": "px"},
          "mark": {"type": "area", "color": "#975A72", "clip": true},
          "encoding": {
            "x": {"field": "d", "type": "temporal", "scale": {"type": "utc", "domain": [{"year": 2010, "month": 6, "date": 3, "utc": true}, {"year": 2011, "month": 8, "date": 29, "hours": 6, "minutes": 30, "utc": true}]}, "axis": null},
            "y": {"field": "p", "type": "quantitative", "scale": {"domain": [-86, 20], "range": [107, 54], "clamp": true, "nice": false, "zero": false}, "axis": null},
            "y2": {"datum": 20}
          }
        },
        {
          "layer": [
            {
              "data": {"values": [{"v": 78, "s": "solid"}, {"v": 20, "s": "solid"}, {"v": 49, "s": "dashdot"}]},
              "mark": {"type": "rule", "color": "#000000", "strokeWidth": 1.1, "clip": true},
              "encoding": {
                "y": {"field": "v", "type": "quantitative", "scale": {"domain": [-86, 128], "nice": false, "zero": false}, "axis": null},
                "strokeDash": {"field": "s", "type": "nominal", "scale": {"domain": ["solid", "dashed", "thin", "dashdot"], "range": [[1, 0], [5, 3], [4, 4], [10, 3, 2, 3]]}, "legend": null}
              }
            },
            {
              "data": {"name": "ev"},
              "mark": {"type": "rule", "clip": true},
              "encoding": {
                "x": {"field": "d", "type": "temporal", "scale": {"type": "utc", "domain": [{"year": 2010, "month": 6, "date": 3, "utc": true}, {"year": 2011, "month": 8, "date": 29, "hours": 6, "minutes": 30, "utc": true}]}, "axis": null},
                "stroke": {"field": "c", "type": "nominal", "scale": {"domain": ["green", "red", "blue"], "range": ["#0A820A", "#FF0000", "#1414E6"]}, "legend": null},
                "strokeDash": {"field": "k", "type": "nominal", "scale": {"domain": ["solid", "dashed", "thin", "dashdot"], "range": [[1, 0], [5, 3], [4, 4], [10, 3, 2, 3]]}, "legend": null},
                "strokeWidth": {"field": "k", "type": "ordinal", "scale": {"domain": ["solid", "dashed", "thin"], "range": [2.5, 2.5, 1]}, "legend": null}
              }
            },
            {
              "data": {"name": "px"},
              "mark": {"type": "line", "color": "#1C1CA8", "strokeWidth": 1.2, "clip": true},
              "encoding": {
                "x": {"field": "d", "type": "temporal", "scale": {"type": "utc", "domain": [{"year": 2010, "month": 6, "date": 3, "utc": true}, {"year": 2011, "month": 8, "date": 29, "hours": 6, "minutes": 30, "utc": true}]}, "axis": null},
                "y": {"field": "pm", "type": "quantitative", "scale": {"domain": [-86, 128], "nice": false, "zero": false}, "axis": null}
              }
            },
            {
              "data": {"name": "px"},
              "mark": {"type": "line", "color": "#404A55", "strokeWidth": 1.2, "clip": true},
              "encoding": {
                "x": {"field": "d", "type": "temporal", "scale": {"type": "utc", "domain": [{"year": 2010, "month": 6, "date": 3, "utc": true}, {"year": 2011, "month": 8, "date": 29, "hours": 6, "minutes": 30, "utc": true}]}, "axis": null},
                "y": {"field": "p", "type": "quantitative", "scale": {"domain": [-86, 128], "nice": false, "zero": false}, "axis": null}
              }
            },
            {
              "data": {"values": [
                {"d": "2010-10-11", "d2": "2011-02-24", "v": 128, "v2": -86},
                {"d": "2011-04-14", "d2": "2011-04-09", "v": 128, "v2": 120},
                {"d": "2011-06-08T12:00:00Z", "d2": "2011-06-21", "v": 128, "v2": 90},
                {"d": "2011-03-22", "d2": "2011-03-20T18:00:00Z", "v": 32, "v2": 78}
              ]},
              "mark": {"type": "rule", "color": "#707070", "strokeWidth": 2, "clip": true},
              "encoding": {
                "x": {"field": "d", "type": "temporal", "scale": {"type": "utc", "domain": [{"year": 2010, "month": 6, "date": 3, "utc": true}, {"year": 2011, "month": 8, "date": 29, "hours": 6, "minutes": 30, "utc": true}]}, "axis": null},
                "x2": {"field": "d2"},
                "y": {"field": "v", "type": "quantitative", "scale": {"domain": [-86, 128], "nice": false, "zero": false}, "axis": null},
                "y2": {"field": "v2"}
              }
            },
            {
              "data": {"values": [
                {"d": "2010-11-29T12:00:00Z", "d2": "2010-12-22T12:00:00Z", "v": 58, "v2": 28},
                {"d": "2011-03-07", "d2": "2011-03-23", "v": 32, "v2": -40},
                {"d": "2011-06-28", "d2": "2011-07-25", "v": -2, "v2": -34}
              ]},
              "mark": {"type": "rect", "fill": "white", "stroke": "#555555", "strokeWidth": 1.2, "clip": true},
              "encoding": {
                "x": {"field": "d", "type": "temporal", "scale": {"type": "utc", "domain": [{"year": 2010, "month": 6, "date": 3, "utc": true}, {"year": 2011, "month": 8, "date": 29, "hours": 6, "minutes": 30, "utc": true}]}, "axis": null},
                "x2": {"field": "d2"},
                "y": {"field": "v", "type": "quantitative", "scale": {"domain": [-86, 128], "nice": false, "zero": false}, "axis": null},
                "y2": {"field": "v2"}
              }
            },
            {
              "data": {"values": [
                {"d": "2010-12-01", "v": 44, "t": "wave 3"},
                {"d": "2011-06-29", "v": -18, "t": "wave (ii)"}
              ]},
              "mark": {"type": "text", "align": "left", "baseline": "middle", "font": "Liberation Sans", "fontWeight": "bold", "fontSize": 13, "color": "#087808", "clip": true},
              "encoding": {
                "x": {"field": "d", "type": "temporal", "scale": {"type": "utc", "domain": [{"year": 2010, "month": 6, "date": 3, "utc": true}, {"year": 2011, "month": 8, "date": 29, "hours": 6, "minutes": 30, "utc": true}]}, "axis": null},
                "y": {"field": "v", "type": "quantitative", "scale": {"domain": [-86, 128], "nice": false, "zero": false}, "axis": null},
                "text": {"field": "t"}
              }
            },
            {
              "data": {"values": [
                {"d": "2011-03-08T12:00:00Z", "v": 12, "t": "wave"},
                {"d": "2011-03-08T12:00:00Z", "v": -20, "t": "4"}
              ]},
              "mark": {"type": "text", "align": "left", "baseline": "middle", "font": "Liberation Sans", "fontWeight": "bold", "fontSize": 13, "color": "#F00000", "clip": true},
              "encoding": {
                "x": {"field": "d", "type": "temporal", "scale": {"type": "utc", "domain": [{"year": 2010, "month": 6, "date": 3, "utc": true}, {"year": 2011, "month": 8, "date": 29, "hours": 6, "minutes": 30, "utc": true}]}, "axis": null},
                "y": {"field": "v", "type": "quantitative", "scale": {"domain": [-86, 128], "nice": false, "zero": false}, "axis": null},
                "text": {"field": "t"}
              }
            }
          ]
        }
      ]
    },
    {
      "width": 1156,
      "height": 103,
      "resolve": {"scale": {"y": "independent"}},
      "layer": [
        {
          "data": {"name": "px"},
          "mark": {"type": "area", "color": "#8E8654", "clip": true},
          "encoding": {
            "x": {"field": "d", "type": "temporal", "scale": {"type": "utc", "domain": [{"year": 2010, "month": 6, "date": 3, "utc": true}, {"year": 2011, "month": 8, "date": 29, "hours": 6, "minutes": 30, "utc": true}]}, "axis": null},
            "y": {"field": "q", "type": "quantitative", "scale": {"domain": [75, 100], "range": [25, 0], "clamp": true, "nice": false, "zero": false}, "axis": null},
            "y2": {"datum": 75}
          }
        },
        {
          "data": {"name": "px"},
          "mark": {"type": "area", "color": "#975A72", "clip": true},
          "encoding": {
            "x": {"field": "d", "type": "temporal", "scale": {"type": "utc", "domain": [{"year": 2010, "month": 6, "date": 3, "utc": true}, {"year": 2011, "month": 8, "date": 29, "hours": 6, "minutes": 30, "utc": true}]}, "axis": null},
            "y": {"field": "q", "type": "quantitative", "scale": {"domain": [-3, 20], "range": [103, 80], "clamp": true, "nice": false, "zero": false}, "axis": null},
            "y2": {"datum": 20}
          }
        },
        {
          "layer": [
            {
              "data": {"values": [{"v": 75, "s": "solid"}, {"v": 20, "s": "solid"}, {"v": 47.5, "s": "dashdot"}]},
              "mark": {"type": "rule", "color": "#000000", "strokeWidth": 1.1, "clip": true},
              "encoding": {
                "y": {"field": "v", "type": "quantitative", "scale": {"domain": [-3, 100], "nice": false, "zero": false}, "axis": null},
                "strokeDash": {"field": "s", "type": "nominal", "scale": {"domain": ["solid", "dashed", "thin", "dashdot"], "range": [[1, 0], [5, 3], [4, 4], [10, 3, 2, 3]]}, "legend": null}
              }
            },
            {
              "data": {"name": "ev"},
              "mark": {"type": "rule", "clip": true},
              "encoding": {
                "x": {"field": "d", "type": "temporal", "scale": {"type": "utc", "domain": [{"year": 2010, "month": 6, "date": 3, "utc": true}, {"year": 2011, "month": 8, "date": 29, "hours": 6, "minutes": 30, "utc": true}]}, "axis": null},
                "stroke": {"field": "c", "type": "nominal", "scale": {"domain": ["green", "red", "blue"], "range": ["#0A820A", "#FF0000", "#1414E6"]}, "legend": null},
                "strokeDash": {"field": "k", "type": "nominal", "scale": {"domain": ["solid", "dashed", "thin", "dashdot"], "range": [[1, 0], [5, 3], [4, 4], [10, 3, 2, 3]]}, "legend": null},
                "strokeWidth": {"field": "k", "type": "ordinal", "scale": {"domain": ["solid", "dashed", "thin"], "range": [2.5, 2.5, 1]}, "legend": null}
              }
            },
            {
              "data": {"name": "px"},
              "mark": {"type": "line", "color": "#1C1CA8", "strokeWidth": 1.2, "clip": true},
              "encoding": {
                "x": {"field": "d", "type": "temporal", "scale": {"type": "utc", "domain": [{"year": 2010, "month": 6, "date": 3, "utc": true}, {"year": 2011, "month": 8, "date": 29, "hours": 6, "minutes": 30, "utc": true}]}, "axis": null},
                "y": {"field": "qm", "type": "quantitative", "scale": {"domain": [-3, 100], "nice": false, "zero": false}, "axis": null}
              }
            },
            {
              "data": {"name": "px"},
              "mark": {"type": "line", "color": "#404A55", "strokeWidth": 1.2, "clip": true},
              "encoding": {
                "x": {"field": "d", "type": "temporal", "scale": {"type": "utc", "domain": [{"year": 2010, "month": 6, "date": 3, "utc": true}, {"year": 2011, "month": 8, "date": 29, "hours": 6, "minutes": 30, "utc": true}]}, "axis": null},
                "y": {"field": "q", "type": "quantitative", "scale": {"domain": [-3, 100], "nice": false, "zero": false}, "axis": null}
              }
            },
            {
              "data": {"values": [{"d": "2011-02-24", "d2": "2011-03-07", "v": 100, "v2": 92}]},
              "mark": {"type": "rule", "color": "#707070", "strokeWidth": 2, "clip": true},
              "encoding": {
                "x": {"field": "d", "type": "temporal", "scale": {"type": "utc", "domain": [{"year": 2010, "month": 6, "date": 3, "utc": true}, {"year": 2011, "month": 8, "date": 29, "hours": 6, "minutes": 30, "utc": true}]}, "axis": null},
                "x2": {"field": "d2"},
                "y": {"field": "v", "type": "quantitative", "scale": {"domain": [-3, 100], "nice": false, "zero": false}, "axis": null},
                "y2": {"field": "v2"}
              }
            }
          ]
        }
      ]
    },
    {
      "width": 1156,
      "height": 15,
      "view": {"fill": "#2B5A84", "stroke": null},
      "data": {"name": "px"},
      "mark": {"type": "rule", "opacity": 0, "clip": true},
      "encoding": {
        "x": {
          "field": "d",
          "type": "temporal",
          "scale": {"type": "utc", "domain": [{"year": 2010, "month": 6, "date": 3, "utc": true}, {"year": 2011, "month": 8, "date": 29, "hours": 6, "minutes": 30, "utc": true}]},
          "axis": {
            "orient": "bottom",
            "offset": -15,
            "domain": false,
            "ticks": false,
            "tickSize": 0,
            "grid": false,
            "title": null,
            "labelColor": "white",
            "labelFont": "DejaVu Sans",
            "labelFontSize": 10,
            "labelPadding": 2,
            "labelBaseline": "top",
            "labelFlush": false,
            "labelOverlap": false,
            "tickCount": {"interval": "month", "step": 1},
            "labelExpr": "utcmonth(datum.value) == 0 ? utcFormat(datum.value, '%Y') : utcFormat(datum.value, '%b')",
            "labelFontWeight": {"condition": {"test": "utcmonth(datum.value) == 0", "value": "bold"}, "value": "normal"}
          }
        }
      }
    }
  ]
}
